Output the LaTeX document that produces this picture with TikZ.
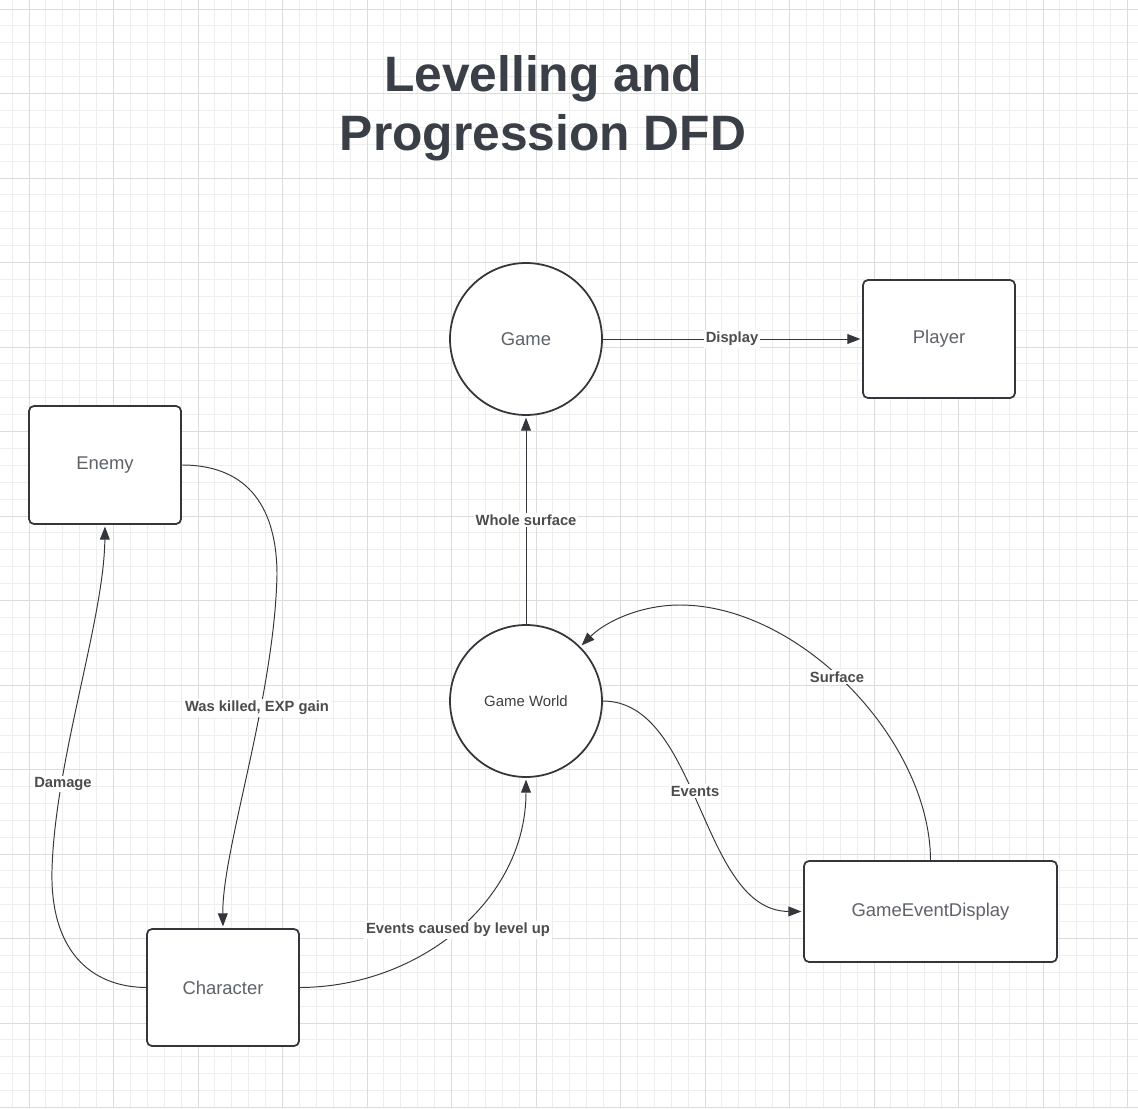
\documentclass[tikz,border=0pt]{standalone}
\usepackage{fontspec}
\setmainfont{Liberation Sans}
\usetikzlibrary{arrows.meta}
\definecolor{ink}{HTML}{33363B}
\definecolor{nodetxt}{HTML}{5E6269}
\definecolor{gwtxt}{HTML}{3C3F44}
\definecolor{flowtxt}{HTML}{4B4C4E}
\definecolor{titletxt}{HTML}{3A3E46}
\definecolor{gridmin}{HTML}{EEEEEE}
\definecolor{gridmaj}{HTML}{DCDCDC}

\begin{document}
\begin{tikzpicture}[x=0.02cm, y=-0.02cm,
  proc/.style={circle, draw=ink, line width=1pt, fill=white, minimum size=3.04cm, inner sep=0pt,
    text=nodetxt, font=\fontsize{10.5}{12}\selectfont},
  ent/.style={rectangle, rounded corners=2.8pt, draw=ink, line width=1pt, fill=white,
    minimum width=3.04cm, minimum height=2.36cm, text=nodetxt, font=\fontsize{10.5}{12}\selectfont},
  flow/.style={-{Triangle[length=7.4pt,width=5.6pt]}, draw=ink, line width=0.55pt, shorten >=1pt},
  lbl/.style={fill=white, inner sep=1pt, text=flowtxt, font=\bfseries\fontsize{8.4}{10}\selectfont},
  ttl/.style={anchor=base, text=titletxt, font=\bfseries\fontsize{28.3}{33.5}\selectfont}]
\useasboundingbox (0,0) rectangle (1138,1108);

% grid paper
\fill[white] (0,0) rectangle (1138,1108);
\begin{scope}
\clip (0,0) rectangle (1138,1108);
\foreach \i in {-2,...,66}{
  \draw[gridmin, line width=0.5pt] ({29+16.9*\i},0) -- ({29+16.9*\i},1108);
  \draw[gridmin, line width=0.5pt] (0,{9+16.9*\i}) -- (1138,{9+16.9*\i});
}
\foreach \i in {-5,0,...,65}{
  \draw[gridmaj, line width=0.5pt] ({29+16.9*\i},0) -- ({29+16.9*\i},1108);
  \draw[gridmaj, line width=0.5pt] (0,{9+16.9*\i}) -- (1138,{9+16.9*\i});
}
\end{scope}

% title
\node[ttl] (title1) at (543,92) {Levelling and};
\node[ttl] (title2) at (543,151) {Progression DFD};

% processes and entities
\node[proc] (game) at (526,339) {Game};
\node[proc, text=gwtxt, font=\fontsize{8.5}{10}\selectfont] (gw) at (526,701) {Game World};
\node[ent] (player) at (939,339) {Player};
\node[ent] (enemy) at (105,465) {Enemy};
\node[ent, minimum height=2.34cm] (character) at (223,987.5) {Character};
\node[ent, minimum width=5.06cm, minimum height=2.02cm] (ged) at (930.5,911.5) {GameEventDisplay};

% flows
\draw[flow] (game) -- (player);
\draw[flow] (gw) -- (game);
\draw[flow] (enemy.east) .. controls (250,465) and (277,510) .. (277,575)
  .. controls (274,700) and (222,850) .. (character.north);
\draw[flow] (character.west) .. controls (90,987) and (50,950) .. (52,870)
  .. controls (55,760) and (104,620) .. (enemy.south);
\draw[flow] (character.east) .. controls (420,987) and (526,900) .. (gw.south);
\draw[flow] (gw.east) .. controls (700,701) and (700,911) .. (ged.west);
\draw[flow] (ged.north) .. controls (930,740) and (800,605) .. (680,605)
  .. controls (640,605) and (605,622) .. (gw.45);

% flow labels
\node[lbl] (display) at (732,339) {Display};
\node[lbl] (whole) at (526,520) {Whole surface};
\node[lbl] (killed) at (257,708) {Was killed, EXP gain};
\node[lbl] (damage) at (63,784) {Damage};
\node[lbl] (levelup) at (458,930) {Events caused by level up};
\node[lbl] (events) at (695,791) {Events};
\node[lbl] (surface) at (837,677) {Surface};

\end{tikzpicture}
\end{document}
